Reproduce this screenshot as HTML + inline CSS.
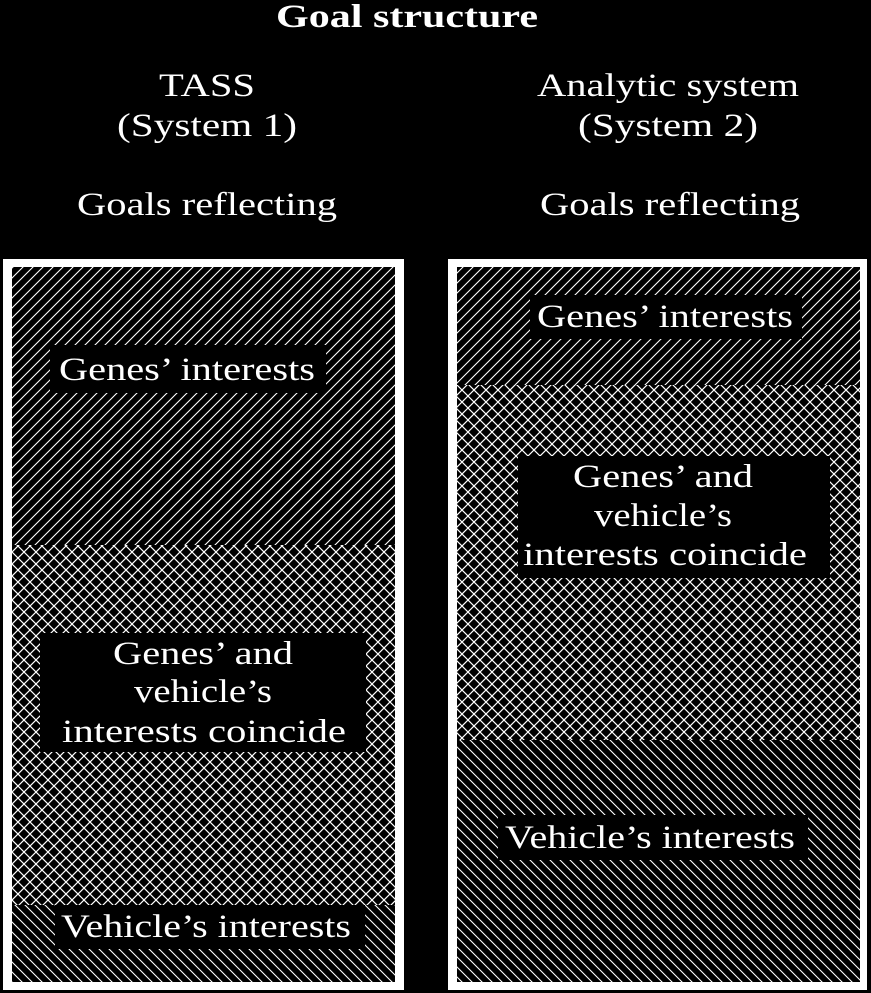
<!DOCTYPE html>
<html><head><meta charset="utf-8"><style>
html,body{margin:0;padding:0;background:#000;}
svg{display:block;}
text{font-family:"Liberation Serif",serif;fill:#fff;font-size:33px;}
</style></head><body>
<svg width="871" height="993" viewBox="0 0 871 993" xmlns="http://www.w3.org/2000/svg">
<defs>
<pattern id="fw" patternUnits="userSpaceOnUse" width="10" height="10">
<path d="M-1,11 L11,-1 M-6,6 L6,-6 M4,16 L16,4" stroke="#fff" stroke-width="1.1"/>
</pattern>
<pattern id="bw" patternUnits="userSpaceOnUse" width="10" height="10">
<path d="M-1,-1 L11,11 M-6,4 L6,16 M4,-6 L16,6" stroke="#fff" stroke-width="1.1"/>
</pattern>
<pattern id="cx" patternUnits="userSpaceOnUse" width="12" height="12">
<path d="M-1,13 L13,-1 M-1,-1 L13,13" stroke="#fff" stroke-width="1.2"/>
</pattern>
</defs>
<rect width="871" height="993" fill="#000"/>
<text x="407" y="27" text-anchor="middle" font-weight="bold" font-size="30" textLength="262" lengthAdjust="spacingAndGlyphs">Goal structure</text>
<text x="207" y="96" text-anchor="middle" textLength="96" lengthAdjust="spacingAndGlyphs">TASS</text>
<text x="207" y="136" text-anchor="middle" textLength="180" lengthAdjust="spacingAndGlyphs">(System 1)</text>
<text x="207" y="215" text-anchor="middle" textLength="260" lengthAdjust="spacingAndGlyphs">Goals reflecting</text>
<text x="668" y="96" text-anchor="middle" textLength="262" lengthAdjust="spacingAndGlyphs">Analytic system</text>
<text x="668" y="136" text-anchor="middle" textLength="180" lengthAdjust="spacingAndGlyphs">(System 2)</text>
<text x="670" y="215" text-anchor="middle" textLength="260" lengthAdjust="spacingAndGlyphs">Goals reflecting</text>

<rect x="3" y="259" width="401" height="731" fill="#fff"/>
<rect x="12" y="267" width="383" height="715" fill="#000"/>
<rect x="12" y="267" width="383" height="278" fill="url(#fw)"/>
<rect x="12" y="545" width="383" height="360" fill="url(#cx)"/>
<rect x="12" y="905" width="383" height="77" fill="url(#bw)"/>
<rect x="50" y="345" width="276" height="48" fill="#000"/>
<text x="187" y="380" text-anchor="middle" textLength="256" lengthAdjust="spacingAndGlyphs">Genes’ interests</text>
<rect x="40" y="633" width="326" height="119" fill="#000"/>
<text x="203" y="664" text-anchor="middle" textLength="180" lengthAdjust="spacingAndGlyphs">Genes’ and</text>
<text x="203" y="702" text-anchor="middle" textLength="138" lengthAdjust="spacingAndGlyphs">vehicle’s</text>
<text x="204" y="742" text-anchor="middle" textLength="284" lengthAdjust="spacingAndGlyphs">interests coincide</text>
<rect x="55" y="905" width="310" height="44" fill="#000"/>
<text x="206" y="937" text-anchor="middle" textLength="290" lengthAdjust="spacingAndGlyphs">Vehicle’s interests</text>

<rect x="448" y="259" width="419" height="731" fill="#fff"/>
<rect x="457" y="267" width="403" height="715" fill="#000"/>
<rect x="457" y="267" width="403" height="118" fill="url(#fw)"/>
<rect x="457" y="385" width="403" height="355" fill="url(#cx)"/>
<rect x="457" y="740" width="403" height="242" fill="url(#bw)"/>
<rect x="530" y="295" width="272" height="44" fill="#000"/>
<text x="665" y="327" text-anchor="middle" textLength="256" lengthAdjust="spacingAndGlyphs">Genes’ interests</text>
<rect x="518" y="456" width="312" height="122" fill="#000"/>
<text x="663" y="487" text-anchor="middle" textLength="180" lengthAdjust="spacingAndGlyphs">Genes’ and</text>
<text x="663" y="526" text-anchor="middle" textLength="138" lengthAdjust="spacingAndGlyphs">vehicle’s</text>
<text x="665" y="565" text-anchor="middle" textLength="284" lengthAdjust="spacingAndGlyphs">interests coincide</text>
<rect x="498" y="815" width="310" height="45" fill="#000"/>
<text x="650" y="848" text-anchor="middle" textLength="290" lengthAdjust="spacingAndGlyphs">Vehicle’s interests</text>
</svg>
</body></html>
